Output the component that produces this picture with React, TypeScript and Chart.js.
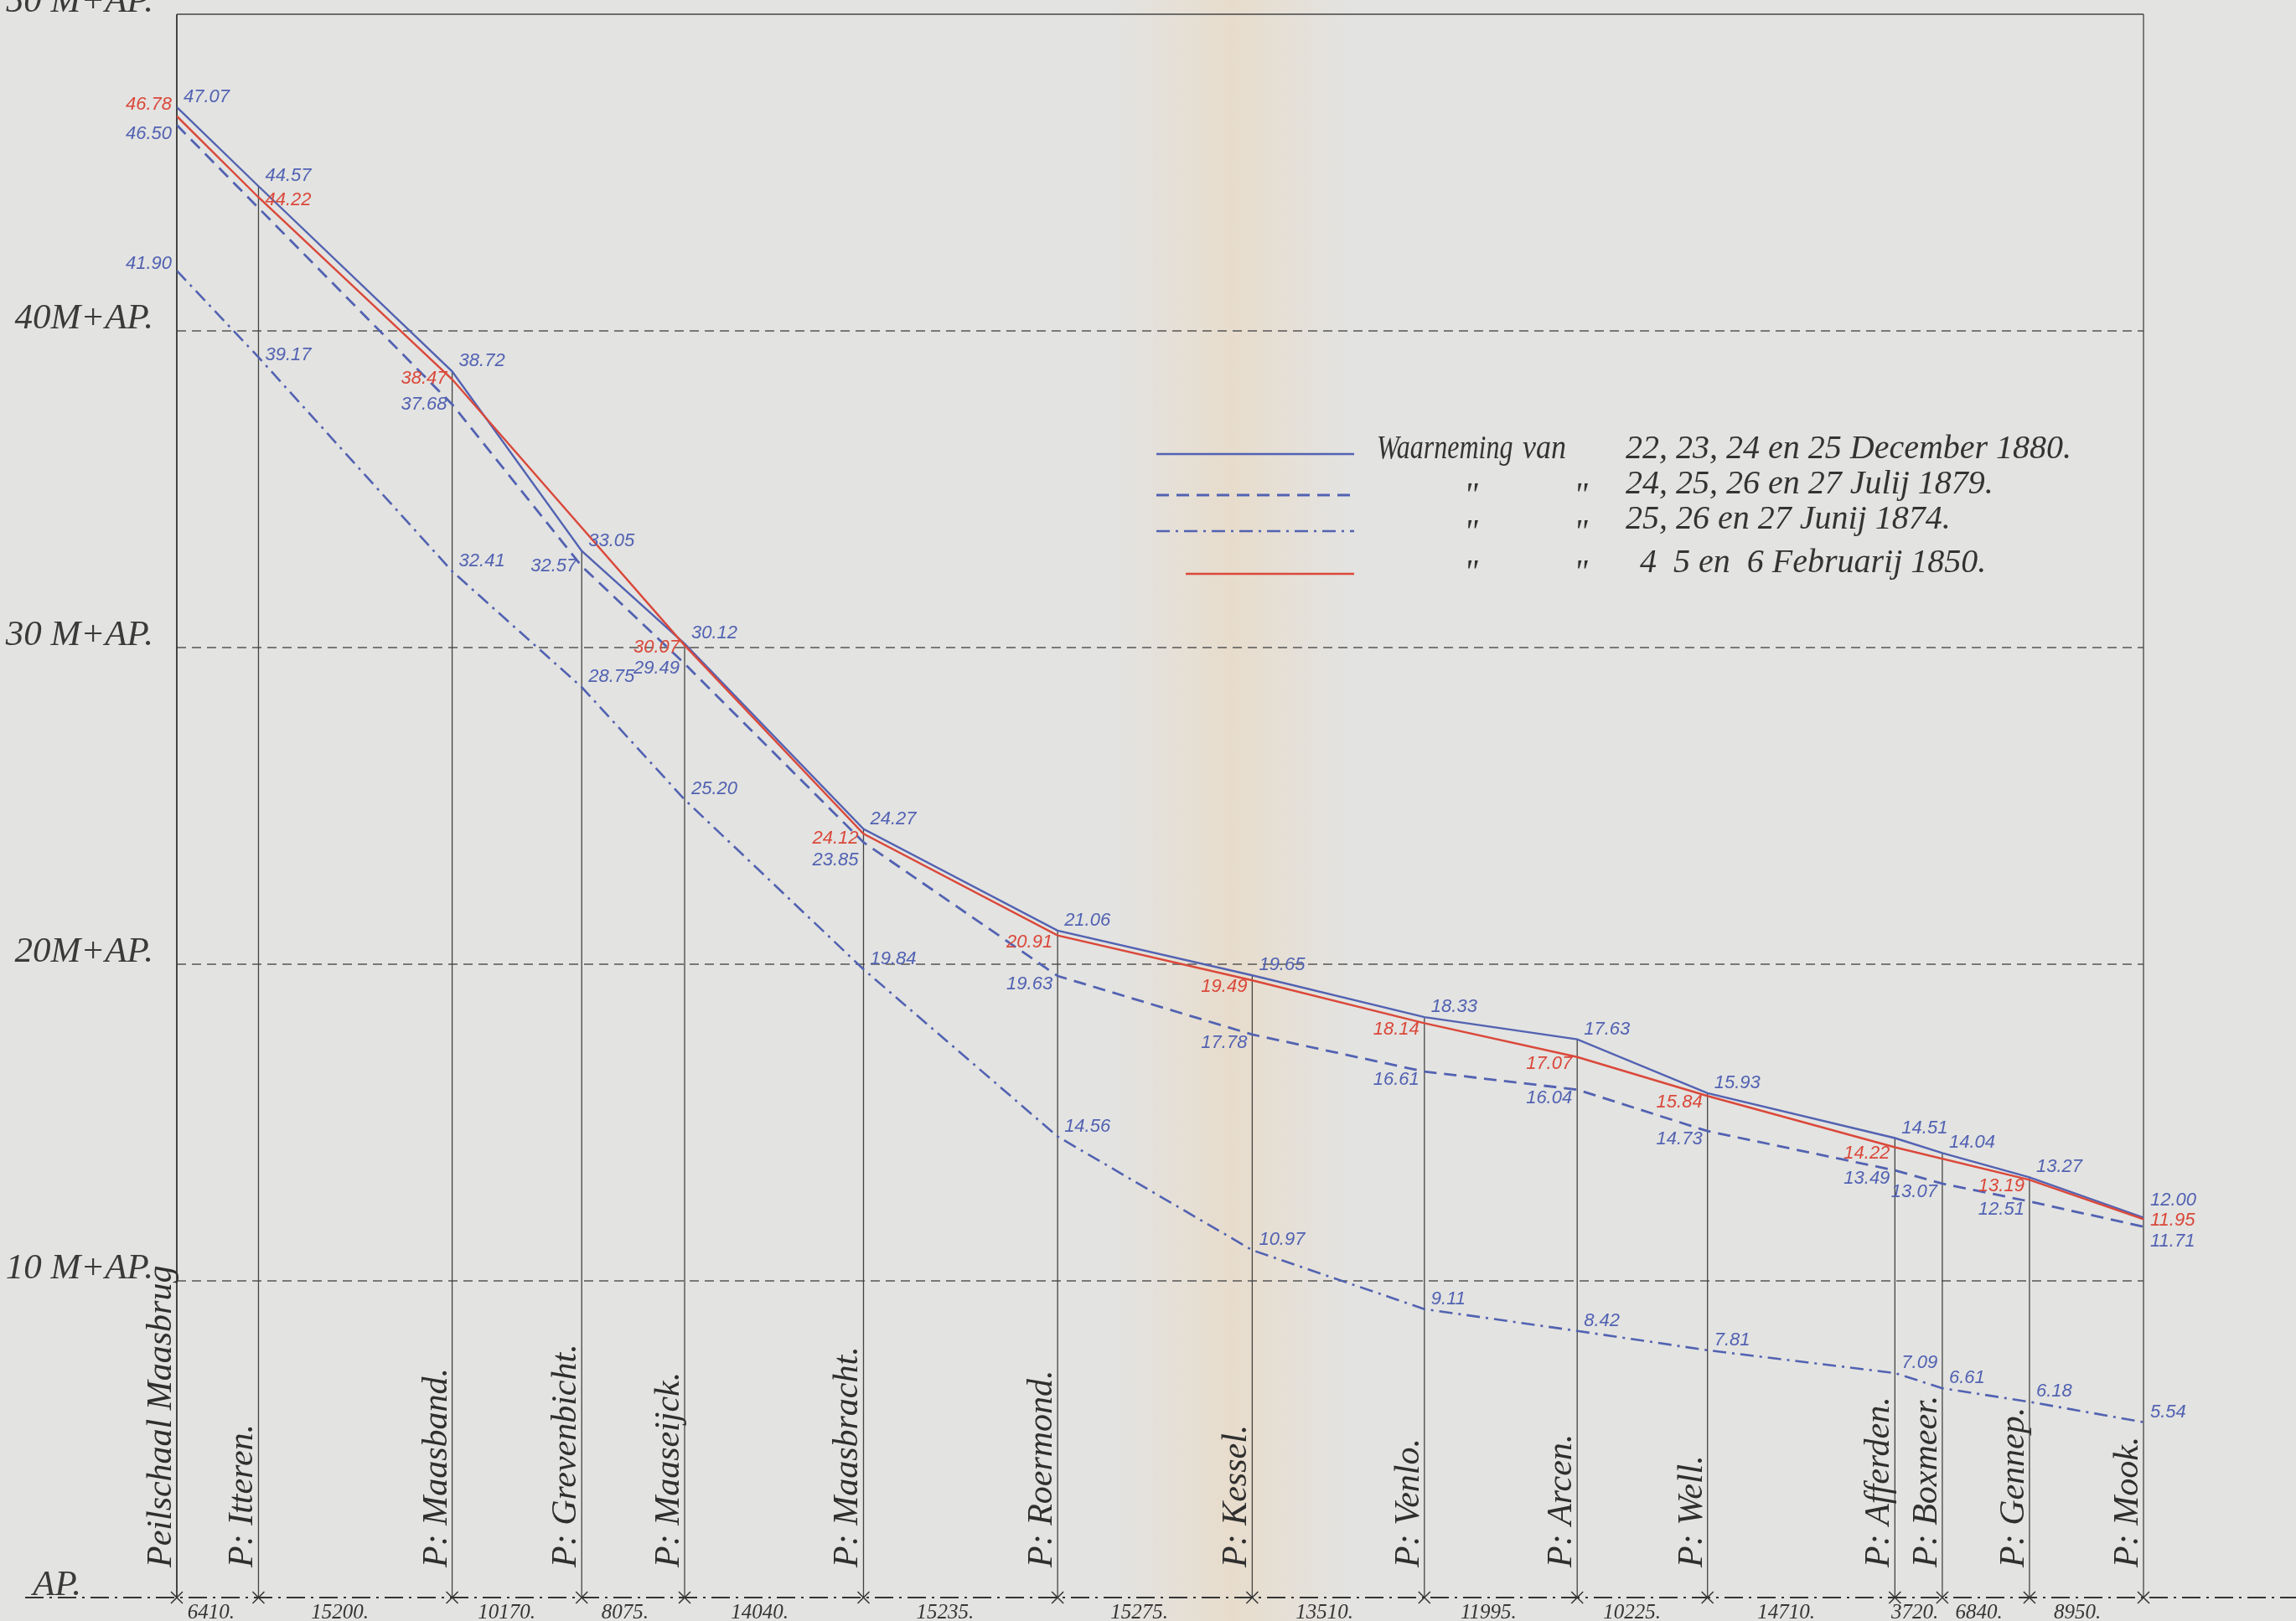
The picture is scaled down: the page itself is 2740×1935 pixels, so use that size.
import React, { useEffect, useRef } from 'react';
import { Chart, registerables } from 'chart.js';

Chart.register(...registerables);

// ---------- data ----------
const stationNames = [
  'Peilschaal Maasbrug',
  'P: Itteren.',
  'P: Maasband.',
  'P: Grevenbicht.',
  'P: Maaseijck.',
  'P: Maasbracht.',
  'P: Roermond.',
  'P: Kessel.',
  'P: Venlo.',
  'P: Arcen.',
  'P: Well.',
  'P: Afferden.',
  'P: Boxmeer.',
  'P: Gennep.',
  'P: Mook.',
];
// distance between consecutive gauges (metres), as written below the base line
const segmentDistances = [6410, 15200, 10170, 8075, 14040, 15235, 15275, 13510, 11995, 10225, 14710, 3720, 6840, 8950];
// cumulative distance of each gauge from Maasbrug (metres)
const stationDistance = [0, 6410, 21610, 31780, 39855, 53895, 69130, 84405, 97915, 109910, 120135, 134845, 138565, 145405, 154355];

const dec1880 = [47.07, 44.57, 38.72, 33.05, 30.12, 24.27, 21.06, 19.65, 18.33, 17.63, 15.93, 14.51, 14.04, 13.27, 12.0];
const jul1879 = [46.5, null, 37.68, 32.57, 29.49, 23.85, 19.63, 17.78, 16.61, 16.04, 14.73, 13.49, 13.07, 12.51, 11.71];
const jun1874 = [41.9, 39.17, 32.41, 28.75, 25.2, 19.84, 14.56, 10.97, 9.11, 8.42, 7.81, 7.09, 6.61, 6.18, 5.54];
const feb1850 = [46.78, 44.22, 38.47, null, 30.07, 24.12, 20.91, 19.49, 18.14, 17.07, 15.84, 14.22, null, 13.19, 11.95];

const yTickValues = [0, 10, 20, 30, 40, 50];
const yTickLabels = ['AP.', '10 M+AP.', '20M+AP.', '30 M+AP.', '40M+AP.', '50 M+AP.'];
const legendHead = ['Waarneming', 'van'];
const legendDates = [
  '22, 23, 24 en 25 December 1880.',
  '24, 25, 26 en 27 Julij 1879.',
  '25, 26 en 27 Junij 1874.',
  '4  5 en  6 Februarij 1850.',
];

// ---------- styles ----------
const BLUE = 'rgb(82,98,178)';
const RED = 'rgb(218,72,58)';
const INK = '#353535';
const PAPER = '#e3e3e1';

const SERIES: any[] = [
  { key: 'dec1880', values: dec1880, color: BLUE, dash: [], width: 2.4, legendX1: 1380 },
  { key: 'jul1879', values: jul1879, color: BLUE, dash: [15, 9], width: 2.8, legendX1: 1380 },
  { key: 'jun1874', values: jun1874, color: BLUE, dash: [16, 7, 3, 7], width: 2.6, legendX1: 1380 },
  { key: 'feb1850', values: feb1850, color: RED, dash: [], width: 2.4, legendX1: 1415 },
];
const DRAW_ORDER = ['jun1874', 'jul1879', 'feb1850', 'dec1880'];

const LABEL_STYLE: any = {
  dec1880: { side: 'right', dy: -6, flip: { 14: { side: 'right', dy: -14 } } },
  jul1879: { side: 'left', dy: 16, flip: { 0: { side: 'left', dy: 17 }, 2: { side: 'left', dy: 6 }, 3: { side: 'left', dy: 6 }, 4: { side: 'left', dy: 12 }, 5: { side: 'left', dy: 28 }, 14: { side: 'right', dy: 24 } } },
  jun1874: { side: 'right', dy: -6, flip: { 0: { side: 'left', dy: -2 }, 1: { side: 'right', dy: 4 } } },
  feb1850: { side: 'left', dy: 14, flip: { 0: { side: 'left', dy: -8 }, 1: { side: 'right', dy: 10 }, 2: { side: 'left', dy: 5 }, 4: { side: 'left', dy: 9 }, 5: { side: 'left', dy: 12 }, 14: { side: 'right', dy: 8 } } },
};

const LEGEND_LAYOUT = {
  lineX2: 1616,
  lineY: [542, 591, 634, 685],
  headX: [1643, 1817],
  dateX: [1940, 1940, 1940, 1957],
  textY: [547, 589, 631, 683],
  dittoX: [1747, 1878],
  dittoY: [603, 647, 695],
};

const SERIF = '"Liberation Serif", "DejaVu Serif", serif';
const HAND = '"Liberation Sans", "DejaVu Sans", sans-serif';

function fillCondensed(ctx: any, text: string, x: number, y: number, sx: number) {
  ctx.save();
  ctx.translate(x, y);
  ctx.scale(sx, 1);
  ctx.fillText(text, 0, 0);
  ctx.restore();
}

const decorPlugin = {
  id: 'decor',
  beforeDraw(chart: any) {
    const { ctx, width, height } = chart;
    ctx.save();
    ctx.fillStyle = PAPER;
    ctx.fillRect(0, 0, width, height);
    const g = ctx.createLinearGradient(1330, 0, 1610, 0);
    g.addColorStop(0, 'rgba(236,214,184,0)');
    g.addColorStop(0.5, 'rgba(236,214,184,0.5)');
    g.addColorStop(1, 'rgba(236,214,184,0)');
    ctx.fillStyle = g;
    ctx.fillRect(1330, 0, 280, height);
    ctx.restore();
  },
  beforeDatasetsDraw(chart: any) {
    const { ctx, chartArea, width } = chart;
    const xs = chart.scales.x;
    const ys = chart.scales.y;
    const left = chartArea.left;
    const right = chartArea.right;
    ctx.save();
    // dashed horizontal reference lines
    ctx.strokeStyle = '#555';
    ctx.lineWidth = 1.4;
    ctx.setLineDash([11, 7]);
    yTickValues.forEach((v) => {
      if (v === 0 || v === 50) return;
      const y = ys.getPixelForValue(v);
      ctx.beginPath();
      ctx.moveTo(left, y);
      ctx.lineTo(right, y);
      ctx.stroke();
    });
    // top frame
    ctx.setLineDash([]);
    ctx.strokeStyle = '#444';
    ctx.lineWidth = 1.6;
    const yTop = ys.getPixelForValue(50);
    const y0 = ys.getPixelForValue(0);
    ctx.beginPath();
    ctx.moveTo(left, yTop);
    ctx.lineTo(right, yTop);
    ctx.stroke();
    // station verticals
    stationDistance.forEach((d, i) => {
      const x = xs.getPixelForValue(d);
      let topVal = 50;
      if (i !== 0 && i !== stationDistance.length - 1) {
        topVal = Math.max(dec1880[i], (jul1879[i] as any) ?? 0, (feb1850[i] as any) ?? 0, jun1874[i]);
      }
      ctx.lineWidth = i === 0 ? 2 : 1.3;
      ctx.strokeStyle = '#444';
      ctx.beginPath();
      ctx.moveTo(x, ys.getPixelForValue(topVal));
      ctx.lineTo(x, y0);
      ctx.stroke();
    });
    // base line (A.P.) dash-dot
    ctx.strokeStyle = '#333';
    ctx.lineWidth = 2;
    ctx.setLineDash([22, 7, 3, 7]);
    ctx.beginPath();
    ctx.moveTo(30, y0);
    ctx.lineTo(width, y0);
    ctx.stroke();
    ctx.setLineDash([]);
    // crosses at gauges
    ctx.lineWidth = 1.5;
    stationDistance.forEach((d) => {
      const x = xs.getPixelForValue(d);
      ctx.beginPath();
      ctx.moveTo(x - 7, y0 - 7);
      ctx.lineTo(x + 7, y0 + 7);
      ctx.moveTo(x + 7, y0 - 7);
      ctx.lineTo(x - 7, y0 + 7);
      ctx.stroke();
    });
    // distances under the base line
    ctx.fillStyle = INK;
    ctx.font = `italic 25px ${SERIF}`;
    ctx.textAlign = 'center';
    ctx.textBaseline = 'alphabetic';
    segmentDistances.forEach((dist, i) => {
      const xa = xs.getPixelForValue(stationDistance[i]);
      const xb = xs.getPixelForValue(stationDistance[i + 1]);
      ctx.fillText(`${dist}.`, xa + 0.42 * (xb - xa), y0 + 25);
    });
    // station names (rotated)
    ctx.font = `italic 42px ${SERIF}`;
    ctx.fillStyle = '#2f2f2f';
    ctx.textAlign = 'left';
    stationNames.forEach((name, i) => {
      const x = xs.getPixelForValue(stationDistance[i]);
      ctx.save();
      ctx.translate(x - 7, y0 - 36);
      ctx.rotate(-Math.PI / 2);
      ctx.fillText(name, 0, 0);
      ctx.restore();
    });
    ctx.restore();
  },
  afterDatasetsDraw(chart: any) {
    const { ctx } = chart;
    const xs = chart.scales.x;
    const ys = chart.scales.y;
    ctx.save();
    // value labels
    ctx.font = `italic 22px ${HAND}`;
    ctx.textBaseline = 'alphabetic';
    SERIES.forEach((s) => {
      const st = LABEL_STYLE[s.key];
      s.values.forEach((v: any, i: number) => {
        if (v == null) return;
        const o = st.flip[i] || st;
        const x = xs.getPixelForValue(stationDistance[i]);
        const y = ys.getPixelForValue(v);
        ctx.fillStyle = s.color;
        ctx.textAlign = o.side === 'right' ? 'left' : 'right';
        ctx.fillText(v.toFixed(2), o.side === 'right' ? x + 8 : x - 6, y + o.dy);
      });
    });
    // legend
    const L = LEGEND_LAYOUT;
    SERIES.forEach((s, i) => {
      ctx.strokeStyle = s.color;
      ctx.lineWidth = s.width;
      ctx.setLineDash(s.dash);
      ctx.beginPath();
      ctx.moveTo(s.legendX1, L.lineY[i]);
      ctx.lineTo(L.lineX2, L.lineY[i]);
      ctx.stroke();
    });
    ctx.setLineDash([]);
    ctx.fillStyle = '#333';
    ctx.textAlign = 'left';
    ctx.font = `italic 40px ${SERIF}`;
    fillCondensed(ctx, legendHead[0], L.headX[0], L.textY[0], 0.8);
    fillCondensed(ctx, legendHead[1], L.headX[1], L.textY[0], 0.9);
    legendDates.forEach((t, i) => {
      ctx.fillText(t, L.dateX[i], L.textY[i]);
    });
    L.dittoY.forEach((y) => {
      ctx.fillText('"', L.dittoX[0], y);
      ctx.fillText('"', L.dittoX[1], y);
    });
    ctx.restore();
  },
};

function buildConfig(): any {
  const byKey: any = {};
  SERIES.forEach((s) => (byKey[s.key] = s));
  const datasets = DRAW_ORDER.map((k) => {
    const s = byKey[k];
    return {
      label: k,
      data: s.values.map((v: any, i: number) => ({ x: stationDistance[i], y: v })),
      borderColor: s.color,
      borderWidth: s.width,
      borderDash: s.dash,
      pointRadius: 0,
      pointHoverRadius: 0,
      tension: 0,
      spanGaps: true,
      fill: false,
    };
  });
  return {
    type: 'line',
    data: { datasets },
    options: {
      animation: false,
      responsive: false,
      devicePixelRatio: 1,
      events: [],
      layout: { padding: { left: 0, top: 17, right: 182, bottom: 28 } },
      plugins: { legend: { display: false }, tooltip: { enabled: false }, title: { display: false } },
      scales: {
        x: { type: 'linear', min: 0, max: stationDistance[stationDistance.length - 1], display: false },
        y: {
          type: 'linear',
          min: 0,
          max: 50,
          afterBuildTicks: (scale: any) => {
            scale.ticks = yTickValues.map((v) => ({ value: v }));
          },
          afterFit: (scale: any) => {
            scale.width = 211;
            scale.paddingTop = 0;
            scale.paddingBottom = 0;
          },
          grid: { display: false, drawTicks: false },
          border: { display: false },
          ticks: {
            autoSkip: false,
            padding: 28,
            labelOffset: -14,
            color: '#3a3a3a',
            font: { family: SERIF, style: 'italic', size: 43 },
            callback: (v: any) => {
              const idx = yTickValues.indexOf(v);
              const t = idx >= 0 ? yTickLabels[idx] : '';
              return v === 0 ? t + '\u2003\u2003' : t;
            },
          },
        },
      },
    },
    plugins: [decorPlugin],
  };
}

export default function App() {
  const ref = useRef<HTMLCanvasElement>(null);
  useEffect(() => {
    if (!ref.current) return;
    const chart = new Chart(ref.current, buildConfig());
    return () => chart.destroy();
  }, []);
  return (
    <canvas
      ref={ref}
      width={2740}
      height={1935}
      style={{ position: 'fixed', left: 0, top: 0, width: '2740px', height: '1935px', display: 'block' }}
    />
  );
}
